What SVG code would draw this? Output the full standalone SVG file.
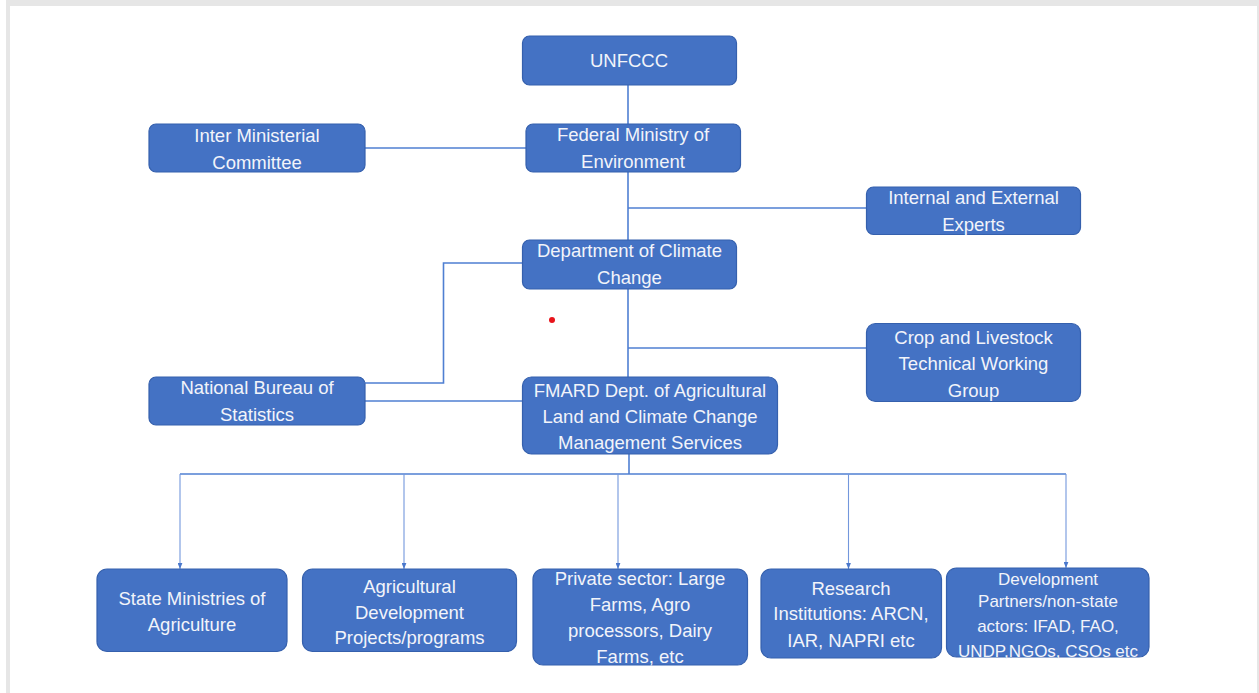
<svg xmlns="http://www.w3.org/2000/svg" width="1259" height="693" viewBox="0 0 1259 693">
<defs>
<marker id="ah" viewBox="0 0 10 8" refX="10" refY="4" markerWidth="6" markerHeight="5" orient="auto" markerUnits="userSpaceOnUse">
<path d="M0,0 L10,4 L0,8 Z" fill="#4a78cc"/>
</marker>
<style>
.box{fill:#4472c4;stroke:#3560ad;stroke-width:1.2}
.t{font-family:"Liberation Sans",Arial,sans-serif;font-size:18.5px;fill:#f2f4fa;text-anchor:middle}
.ts{font-family:"Liberation Sans",Arial,sans-serif;font-size:17px;fill:#f2f4fa;text-anchor:middle}
.ln{fill:none;stroke:#4f7fd2;stroke-width:1.6}
.dr{fill:none;stroke:#7397dc;stroke-width:1.1}
</style>
</defs>
<rect x="0" y="0" width="1259" height="693" fill="#ffffff"/>
<rect x="6" y="0" width="1253" height="693" fill="#e6e6e6"/>
<rect x="10" y="6" width="1247" height="687" fill="#ffffff"/>

<g id="connectors">
<path class="ln" d="M628,85 V124"/>
<path class="ln" d="M365,148 H526"/>
<path class="ln" d="M628,172 V240"/>
<path class="ln" d="M628,208 H866"/>
<path class="ln" d="M628,289 V377"/>
<path class="ln" d="M628,348 H866"/>
<path class="ln" d="M523,263 H443.5 V383 H365"/>
<path class="ln" d="M365,401 H523"/>
<path class="ln" d="M629,454 V474"/>
<path class="ln" d="M180,474 H1066"/>
<path class="dr" d="M180,474 V569" marker-end="url(#ah)"/>
<path class="dr" d="M404,474 V569" marker-end="url(#ah)"/>
<path class="dr" d="M618,474 V569" marker-end="url(#ah)"/>
<path class="dr" d="M848.5,474 V569" marker-end="url(#ah)"/>
<path class="dr" d="M1066,474 V568" marker-end="url(#ah)"/>
</g>

<g id="unfccc">
<rect class="box" x="522.5" y="36" width="214" height="49" rx="7"/>
<text class="t" x="629" y="67">UNFCCC</text>
</g>
<g id="fed-ministry">
<rect class="box" x="526" y="124" width="214.5" height="48" rx="7"/>
<text class="t" x="633" y="141">Federal Ministry of</text>
<text class="t" x="633" y="168">Environment</text>
</g>
<g id="inter-ministerial">
<rect class="box" x="149" y="124" width="216" height="48" rx="7"/>
<text class="t" x="257" y="142">Inter Ministerial</text>
<text class="t" x="257" y="168.5">Committee</text>
</g>
<g id="experts">
<rect class="box" x="866.5" y="187" width="214" height="47.5" rx="7"/>
<text class="t" x="973.5" y="203.5">Internal and External</text>
<text class="t" x="973.5" y="230.5">Experts</text>
</g>
<g id="climate-change">
<rect class="box" x="522.5" y="240" width="214" height="49" rx="7"/>
<text class="t" x="629.5" y="257">Department of Climate</text>
<text class="t" x="629.5" y="283.5">Change</text>
</g>
<g id="crop-livestock">
<rect class="box" x="866.5" y="323.5" width="214" height="78" rx="9"/>
<text class="t" x="973.5" y="343.5">Crop and Livestock</text>
<text class="t" x="973.5" y="370">Technical Working</text>
<text class="t" x="973.5" y="396.5">Group</text>
</g>
<g id="nbs">
<rect class="box" x="149" y="377" width="216" height="48" rx="7"/>
<text class="t" x="257" y="394">National Bureau of</text>
<text class="t" x="257" y="421">Statistics</text>
</g>
<g id="fmard">
<rect class="box" x="522.5" y="377" width="255" height="77" rx="9"/>
<text class="t" x="650" y="397">FMARD Dept. of Agricultural</text>
<text class="t" x="650" y="423">Land and Climate Change</text>
<text class="t" x="650" y="448.5">Management Services</text>
</g>
<g id="state-ministries">
<rect class="box" x="97" y="569" width="190" height="82.5" rx="10"/>
<text class="t" x="192" y="605">State Ministries of</text>
<text class="t" x="192" y="631">Agriculture</text>
</g>
<g id="agri-dev">
<rect class="box" x="302.5" y="569" width="214" height="82.5" rx="10"/>
<text class="t" x="409.5" y="592.5">Agricultural</text>
<text class="t" x="409.5" y="618.5">Development</text>
<text class="t" x="409.5" y="644">Projects/programs</text>
</g>
<g id="private-sector">
<rect class="box" x="533" y="569" width="214.5" height="96" rx="10"/>
<text class="t" x="640" y="585">Private sector: Large</text>
<text class="t" x="640" y="611">Farms, Agro</text>
<text class="t" x="640" y="637">processors, Dairy</text>
<text class="t" x="640" y="663">Farms, etc</text>
</g>
<g id="research">
<rect class="box" x="761" y="569" width="180.5" height="89" rx="10"/>
<text class="t" x="851" y="594.5">Research</text>
<text class="t" x="851" y="620">Institutions: ARCN,</text>
<text class="t" x="851" y="646.5">IAR, NAPRI etc</text>
</g>
<g id="dev-partners">
<rect class="box" x="946.5" y="568" width="202.5" height="89" rx="10"/>
<text class="ts" x="1048" y="585">Development</text>
<text class="ts" x="1048" y="607">Partners/non-state</text>
<text class="ts" x="1048" y="632">actors: IFAD, FAO,</text>
<text class="ts" x="1048" y="656.5">UNDP,NGOs, CSOs etc</text>
</g>
<circle cx="552" cy="320" r="3" fill="#e8141b"/>
</svg>
